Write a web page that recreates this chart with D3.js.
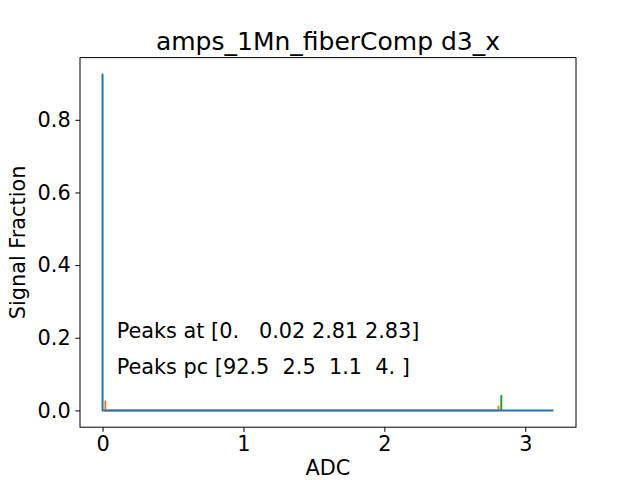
<!DOCTYPE html>
<html><head><meta charset="utf-8">
<script src="https://cdn.jsdelivr.net/npm/d3@7"></script>
<style>body{margin:0;background:#fff}svg{display:block}text{font-family:"DejaVu Sans",sans-serif;fill:#000}</style>
</head><body>
<script>
const title = "amps_1Mn_fiberComp d3_x";
const xLabel = "ADC";
const yLabel = "Signal Fraction";
const xTicks = [0, 1, 2, 3];
const yTicks = [0.0, 0.2, 0.4, 0.6, 0.8];
// spectrum (blue)
const blueX = [0, 0, 0, 3.2];
const blueY = [0, 0.925, 0, 0];
// orange series
const orangeX = [0.02, 0.02, 0.02, 2.81, 2.81, 2.81];
const orangeY = [0, 0.025, 0, 0, 0.011, 0];
// green series
const greenX = [2.83, 2.83, 2.83];
const greenY = [0, 0.040, 0];
const annot = ["Peaks at [0.   0.02 2.81 2.83]", "Peaks pc [92.5  2.5  1.1  4. ]"];
const annotX = 0.1, annotY = [0.2, 0.1];

const FS = 20.83;
const W = 640, H = 480;
const L = 80, R = 576, T = 57.6, B = 427.2;
const svg = d3.select("body").append("svg").attr("width", W).attr("height", H);
const x = d3.scaleLinear().domain([-0.16, 3.36]).range([L, R]);
const y = d3.scaleLinear().domain([-0.04625, 0.97125]).range([B, T]);

const xAxis = svg.append("g").attr("transform", `translate(0,${B})`)
  .call(d3.axisBottom(x).tickValues(xTicks).tickFormat(d3.format("d")).tickSizeOuter(0).tickSize(4.67).tickPadding(4.67));
const yAxis = svg.append("g").attr("transform", `translate(${L},0)`)
  .call(d3.axisLeft(y).tickValues(yTicks).tickFormat(d3.format(".1f")).tickSizeOuter(0).tickSize(4.67).tickPadding(4.67));
[xAxis, yAxis].forEach(g => {
  g.select(".domain").remove();
  g.selectAll("line").attr("stroke", "#000").attr("stroke-width", 1);
  g.selectAll("text").style("font-size", FS + "px").style("font-family", "DejaVu Sans");
});

const line = d3.line().x(d => x(d[0])).y(d => y(d[1]));
function draw(xs, ys, color) {
  svg.append("path").datum(xs.map((v, i) => [v, ys[i]]))
    .attr("d", line).attr("fill", "none").attr("stroke", color)
    .attr("stroke-width", 2).attr("stroke-linejoin", "round").attr("stroke-linecap", "butt");
}
draw(orangeX, orangeY, "#ff7f0e");
draw(greenX, greenY, "#2ca02c");
draw(blueX, blueY, "#1f77b4");

svg.append("rect").attr("x", L).attr("y", T).attr("width", R - L).attr("height", B - T)
  .attr("fill", "none").attr("stroke", "#000").attr("stroke-width", 1);

annot.forEach((t, i) => {
  svg.append("text").attr("x", x(annotX)).attr("y", y(annotY[i]))
    .style("font-size", FS + "px").style("white-space", "pre").attr("xml:space", "preserve").text(t);
});

svg.append("text").attr("x", (L + R) / 2).attr("y", 49.5).attr("text-anchor", "middle")
  .style("font-size", "25px").text(title);
svg.append("text").attr("x", (L + R) / 2).attr("y", 475).attr("text-anchor", "middle")
  .style("font-size", FS + "px").text(xLabel);
svg.append("text").attr("transform", `translate(25,${(T + B) / 2}) rotate(-90)`).attr("text-anchor", "middle")
  .style("font-size", FS + "px").text(yLabel);
</script>
</body></html>
